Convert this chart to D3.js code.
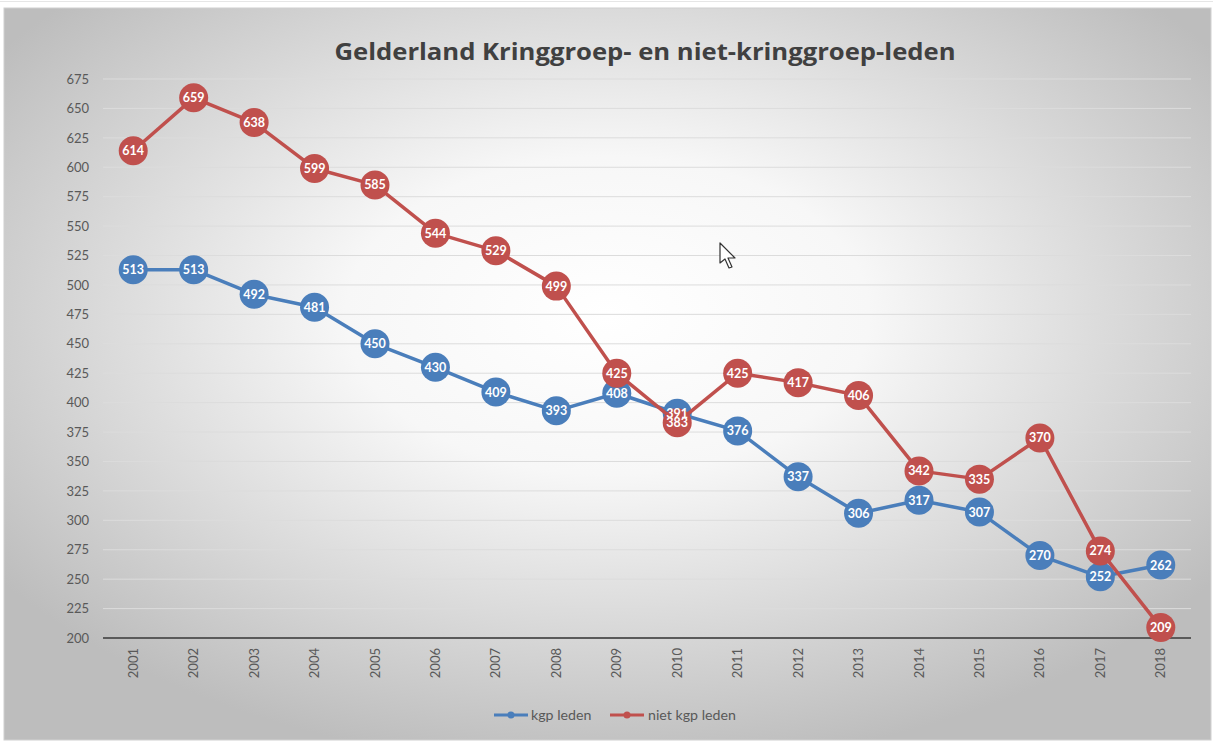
<!DOCTYPE html>
<html><head><meta charset="utf-8">
<script src="https://cdn.jsdelivr.net/npm/d3@7"></script>
<style>body{margin:0;background:#fff;overflow:hidden}svg{display:block}</style>
</head><body>
<svg id="c" width="1213" height="746"></svg>
<script>
const years = ["2001","2002","2003","2004","2005","2006","2007","2008","2009","2010","2011","2012","2013","2014","2015","2016","2017","2018"];
const kgpLeden = [513,513,492,481,450,430,409,393,408,391,376,337,306,317,307,270,252,262];
const nietKgpLeden = [614,659,638,599,585,544,529,499,425,383,425,417,406,342,335,370,274,209];
const yTicks = [200,225,250,275,300,325,350,375,400,425,450,475,500,525,550,575,600,625,650,675];
const seriesNames = ["kgp leden","niet kgp leden"];
const seriesColors = ["#4a7ebb","#c0504d"];

const svg = d3.select("#c");
const font = "Lato, 'Open Sans', sans-serif";

const defs = svg.append("defs");
const g = defs.append("radialGradient").attr("id","bg").attr("cx","0.5").attr("cy","0.42").attr("r","0.62");
g.append("stop").attr("offset","0").attr("stop-color","#ffffff");
g.append("stop").attr("offset","0.35").attr("stop-color","#f7f7f7");
g.append("stop").attr("offset","1").attr("stop-color","#bdbdbd");

svg.append("line").attr("x1",0).attr("x2",1213).attr("y1",1.5).attr("y2",1.5).attr("stroke","#e6e6e6");
svg.append("rect").attr("x",4).attr("y",8).attr("width",1207).attr("height",732).attr("fill","url(#bg)").attr("stroke","#d0d0d0").attr("stroke-width",1);

const x = d3.scaleBand().domain(years).range([103,1191]);
const y = d3.scaleLinear().domain([200,675]).range([638,79]);
const cx = d => x(d) + x.bandwidth()/2;

svg.append("text").attr("x",645).attr("y",60).attr("text-anchor","middle")
  .attr("font-family","'Open Sans', Lato, sans-serif").attr("font-weight","bold").attr("font-size",23.5).attr("fill","#404040")
  .attr("textLength",621).attr("lengthAdjust","spacingAndGlyphs")
  .text("Gelderland Kringgroep- en niet-kringgroep-leden");

// grid
svg.append("g").selectAll("line").data(yTicks.filter(t=>t>200)).join("line")
  .attr("x1",103).attr("x2",1191).attr("y1",d=>y(d)).attr("y2",d=>y(d))
  .attr("stroke","#dcdcdc").attr("stroke-width",1);

// y axis
const ya = svg.append("g").attr("transform","translate(103,0)")
  .call(d3.axisLeft(y).tickValues(yTicks).tickSize(0).tickPadding(14));
ya.select(".domain").remove();
ya.selectAll("text").attr("font-family",font).attr("font-size",13).attr("fill","#595959");

// x axis
svg.append("line").attr("x1",103).attr("x2",1191).attr("y1",y(200)).attr("y2",y(200))
  .attr("stroke","#5a5a5a").attr("stroke-width",2);
const xa = svg.append("g").attr("transform",`translate(0,${y(200)})`)
  .call(d3.axisBottom(x).tickSize(0));
xa.select(".domain").remove();
xa.selectAll("text").attr("font-family",font).attr("font-size",13).attr("fill","#595959")
  .attr("transform","rotate(-90)").attr("text-anchor","end").attr("dy","0.35em").attr("x",-10).attr("y",0);

const series = [kgpLeden, nietKgpLeden];
const line = d3.line().x((d,i)=>cx(years[i])).y(d=>y(d));
series.forEach((s,k)=>{
  svg.append("path").datum(s).attr("d",line).attr("fill","none")
    .attr("stroke",seriesColors[k]).attr("stroke-width",3.5).attr("stroke-linejoin","round");
  svg.append("g").selectAll("circle").data(s).join("circle")
    .attr("cx",(d,i)=>cx(years[i])).attr("cy",d=>y(d)).attr("r",14.5).attr("fill",seriesColors[k]);
});
series.forEach((s,k)=>{
  svg.append("g").selectAll("text").data(s).join("text")
    .attr("x",(d,i)=>cx(years[i])).attr("y",d=>y(d)).attr("dy","0.36em").attr("text-anchor","middle")
    .attr("font-family",font).attr("font-weight","bold").attr("font-size",12.5).attr("fill","#fff")
    .text(d=>d);
});

// legend
const leg = [{x:494,tx:531},{x:610,tx:648}];
seriesNames.forEach((n,k)=>{
  const lg = svg.append("g");
  lg.append("line").attr("x1",leg[k].x).attr("x2",leg[k].x+34).attr("y1",715).attr("y2",715)
    .attr("stroke",seriesColors[k]).attr("stroke-width",3);
  lg.append("circle").attr("cx",leg[k].x+17).attr("cy",715).attr("r",3.5).attr("fill",seriesColors[k]);
  lg.append("text").attr("x",leg[k].tx).attr("y",715).attr("dy","0.35em")
    .attr("font-family",font).attr("font-size",14.2).attr("fill","#595959").text(n);
});

// mouse cursor
svg.append("path").attr("d","M720,243 L720,263 L725,259 L729,268 L732,267 L728,258 L735,258 Z")
  .attr("fill","#fff").attr("stroke","#333").attr("stroke-width",1.2).attr("stroke-linejoin","round");
</script>
</body></html>
